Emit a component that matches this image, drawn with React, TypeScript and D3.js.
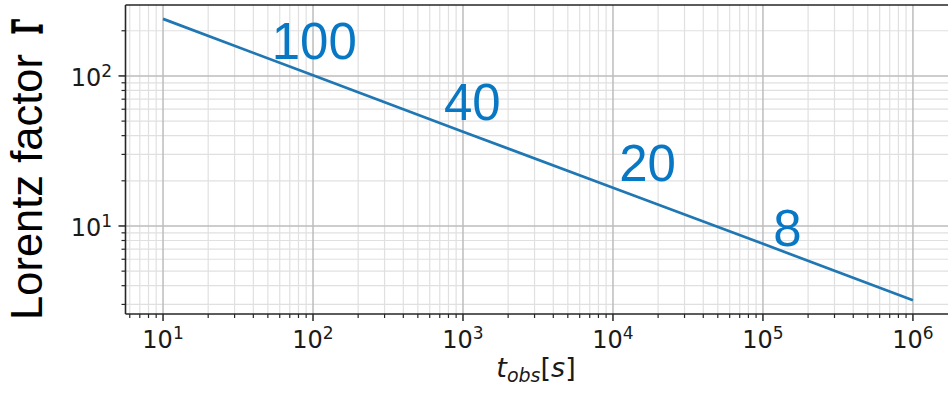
import React from 'react';
import * as d3 from 'd3';

const times = [10, 100, 1000, 1e4, 1e5, 1e6];
const gammas = [240, 101, 42.5, 18, 7.6, 3.2];

const annoLabels = ['100', '40', '20', '8'];
const annoTimes = [53, 747, 1.1e4, 1.17e5];
const annoGammas = [130, 51, 20, 7.4];

const xDecades = [1, 2, 3, 4, 5, 6];
const yDecades = [1, 2];

const W = 948;
const H = 394;
const margin = { left: 125.5, top: 5, right: -12, bottom: 80 };

const App = () => {
  const x = d3.scaleLog()
    .domain([5.62, 2.06e6])
    .range([margin.left, W - margin.right]);
  const y = d3.scaleLog()
    .domain([2.59, 297])
    .range([H - margin.bottom, margin.top]);

  const [x0, x1] = x.range();
  const [y0, y1] = y.range();

  const minorOf = (dom: number[]) => {
    const out: number[] = [];
    const lo = Math.floor(Math.log10(dom[0]));
    const hi = Math.ceil(Math.log10(dom[1]));
    for (let e = lo; e <= hi; e++) {
      for (let m = 2; m <= 9; m++) {
        const v = m * Math.pow(10, e);
        if (v >= dom[0] && v <= dom[1]) out.push(v);
      }
    }
    return out;
  };
  const xMinor = minorOf(x.domain());
  const yMinor = minorOf(y.domain());

  const line = d3.line<number>()
    .x((d, i) => x(times[i]))
    .y((d) => y(d));

  const tickFont = '"DejaVu Sans", sans-serif';

  return (
    <svg width={W} height={H} style={{ position: 'absolute', left: 0, top: 0, background: '#fff' }}>
      <defs>
        <clipPath id="plot">
          <rect x={x0} y={y1} width={x1 - x0} height={y0 - y1} />
        </clipPath>
      </defs>
      <g clipPath="url(#plot)">
        {xMinor.map((v) => (
          <line key={'xm' + v} x1={x(v)} x2={x(v)} y1={y0} y2={y1} stroke="#e0e0e0" strokeWidth={1.2} />
        ))}
        {yMinor.map((v) => (
          <line key={'ym' + v} x1={x0} x2={x1} y1={y(v)} y2={y(v)} stroke="#e0e0e0" strokeWidth={1.2} />
        ))}
        {xDecades.map((e) => (
          <line key={'xM' + e} x1={x(10 ** e)} x2={x(10 ** e)} y1={y0} y2={y1} stroke="#bdbdbd" strokeWidth={1.5} />
        ))}
        {yDecades.map((e) => (
          <line key={'yM' + e} x1={x0} x2={x1} y1={y(10 ** e)} y2={y(10 ** e)} stroke="#bdbdbd" strokeWidth={1.5} />
        ))}
        <path d={line(gammas) || ''} fill="none" stroke="#1f77b4" strokeWidth={2.7} />
        {annoLabels.map((s, i) => (
          <text key={s} x={x(annoTimes[i])} y={y(annoGammas[i])} fill="#0878c4"
            fontFamily='"Liberation Sans", Arial, sans-serif' fontSize={51}>{s}</text>
        ))}
      </g>

      {/* spines */}
      <line x1={x0} x2={x0} y1={y0} y2={y1} stroke="#262626" strokeWidth={1.6} />
      <line x1={x0} x2={x1} y1={y0} y2={y0} stroke="#262626" strokeWidth={1.6} />
      <line x1={x0} x2={x1} y1={y1} y2={y1} stroke="#262626" strokeWidth={1.6} />

      {/* x ticks */}
      {xMinor.map((v) => (
        <line key={'xt' + v} x1={x(v)} x2={x(v)} y1={y0} y2={y0 + 4} stroke="#262626" strokeWidth={1.2} />
      ))}
      {xDecades.map((e) => (
        <g key={'xl' + e}>
          <line x1={x(10 ** e)} x2={x(10 ** e)} y1={y0} y2={y0 + 7} stroke="#262626" strokeWidth={1.5} />
          <text x={x(10 ** e)} y={348.3} textAnchor="middle" fontFamily={tickFont} fontSize={24} fill="#1a1a1a">
            10<tspan fontSize={17} dy={-9}>{e}</tspan>
          </text>
        </g>
      ))}

      {/* y ticks */}
      {yMinor.map((v) => (
        <line key={'yt' + v} x1={x0 - 4} x2={x0} y1={y(v)} y2={y(v)} stroke="#262626" strokeWidth={1.2} />
      ))}
      {yDecades.map((e) => (
        <g key={'yl' + e}>
          <line x1={x0 - 7} x2={x0} y1={y(10 ** e)} y2={y(10 ** e)} stroke="#262626" strokeWidth={1.5} />
          <text x={112} y={y(10 ** e) + 9.7} textAnchor="end" fontFamily={tickFont} fontSize={24} fill="#1a1a1a">
            10<tspan fontSize={17} dy={-9}>{e}</tspan>
          </text>
        </g>
      ))}

      {/* axis labels */}
      <text x={536} y={377} textAnchor="middle" fontFamily={tickFont} fontSize={27} fontStyle="italic" fill="#1a1a1a">
        t<tspan fontSize={19} dy={5}>obs</tspan>
        <tspan dy={-5} fontStyle="normal">[</tspan>
        <tspan>s</tspan>
        <tspan fontStyle="normal">]</tspan>
      </text>
      <g transform="translate(42,320) rotate(-90)">
        <text x={0} y={0} fontFamily='"Liberation Sans", Arial, sans-serif' fontSize={44} fill="#000"
          textLength={266} lengthAdjust="spacingAndGlyphs">
          Lorentz factor
        </text>
      </g>
      <g transform="translate(42,34) rotate(-90)">
        <text transform="scale(0.5,1)" fontFamily='"DejaVu Serif", serif' fontWeight="bold" fontSize={41}
          fill="#000" stroke="#000" strokeWidth={1.6}>
          Γ
        </text>
      </g>
    </svg>
  );
};

export default App;
